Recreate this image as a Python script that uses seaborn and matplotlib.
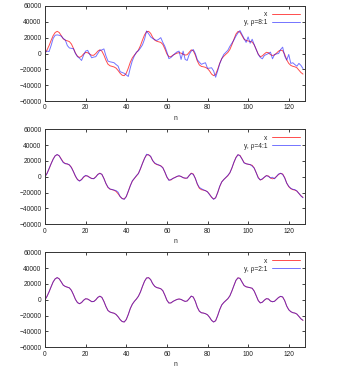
import numpy as np
import pandas as pd
import matplotlib
matplotlib.use("Agg")
import matplotlib.pyplot as plt
import seaborn as sns

n = list(range(128))

# original signal (red)
x = [0, 4500, 10000, 16500, 22500, 26500, 28000, 26500, 22500, 18500,
     16800, 16000, 15000, 12000, 6500, 500, -3500, -5000, -3500, -500,
     1300, 1000, -700, -2300, -2200, 0, 3000, 4600, 3000, -2000,
     -8500, -13500, -15500, -16300, -17000, -18500, -21500, -25000, -27500, -28000,
     -25000, -18500, -11000, -5500, -2000, 1000, 4500, 10000, 17000, 23500,
     27500, 28000, 25500, 20500, 17000, 15500, 14800, 14000, 11500, 6000,
     -500, -4000, -4000, -2000, -800, 500, 1000, 500, -1000, -2000,
     -1500, 1500, 4600, 3500, -2000, -9500, -14500, -16300, -16800, -17500,
     -19000, -22000, -26000, -28000, -26500, -20000, -12500, -6500, -3500, -1000,
     1300, 5000, 11000, 18000, 24500, 27800, 27000, 22500, 18000, 16500,
     15800, 15300, 14500, 11000, 5000, -1000, -4000, -3000, -500, 1500,
     1000, -1500, -2500, -1800, 500, 3000, 4300, 3500, -1000, -8000,
     -12500, -15000, -16200, -16800, -18000, -21000, -24000, -26000]

# reconstructed signal, rho = 8:1
y8 = [2000, 3000, 2500, 10000, 19000, 23000, 23500, 23000, 22000, 19000,
      17000, 10000, 7000, 6500, 6000, 0, -4000, -6000, -8800, -2000,
      3000, 4000, -1000, -5400, -4500, -4000, 0, 4000, 4500, 5800,
      -3000, -9600, -10500, -11000, -11700, -14000, -16000, -23000, -24000, -25000,
      -27000, -29000, -18000, -9000, -3000, 1700, 3500, 7000, 11000, 18000,
      28500, 25000, 21000, 19000, 17500, 16500, 18000, 20000, 14000, 9000,
      2000, -6500, -5000, -2500, 0, 2000, 3000, -7500, 3000, -7500,
      -8800, -1200, 3000, 5000, 0, -8000, -11000, -13700, -12500, -11700,
      -18700, -18500, -18000, -22000, -30000, -22000, -13000, -6700, -1200, 1500,
      4000, 9000, 13000, 17000, 22000, 26000, 29000, 24000, 19000, 14000,
      21000, 13000, 18000, 11000, 5000, -1200, -5000, -6700, -2500, -1200,
      0, 1700, -6700, -1200, -500, 0, 5000, 8000, -3300, -8300,
      -1200, -12500, -11700, -14000, -16000, -12500, -15000, -19000]

# reconstructed signal, rho = 4:1
y4 = [500, 4000, 10500, 16500, 22000, 26500, 28200, 26500, 22000, 18000,
      16500, 16500, 15000, 11500, 6500, 1000, -3500, -5500, -3500, 0,
      1800, 800, -1000, -2000, -2500, -300, 3000, 4300, 3200, -2200,
      -8500, -13000, -15500, -16000, -16800, -17500, -19500, -25000, -27500, -28500,
      -25000, -18000, -11500, -5000, -2000, 1500, 4000, 10500, 17000, 23000,
      28500, 27500, 26000, 20500, 17500, 16000, 15000, 13500, 11500, 6000,
      0, -4500, -3500, -2000, -1000, 500, 1500, 300, -1200, -1500,
      -1800, 1800, 4200, 3000, -2000, -9000, -13500, -15000, -16500, -17500,
      -19000, -22500, -25500, -28500, -26500, -20000, -12000, -6500, -3500, -1000,
      1800, 5000, 11000, 18500, 24000, 28000, 26500, 22500, 17500, 16500,
      16000, 15500, 13500, 11000, 5000, -1500, -4000, -2500, -500, 1500,
      500, -1500, -600, -2500, 500, 3500, 4500, 3000, -1500, -8000,
      -12000, -14500, -15800, -16200, -18000, -21000, -24000, -26500]

# reconstructed signal, rho = 2:1
y2 = [100, 4400, 10100, 16400, 22600, 26400, 28100, 26400, 22600, 18400,
      16900, 15900, 15100, 11900, 6600, 400, -3600, -4900, -3400, -600,
      1400, 900, -600, -2400, -2100, -100, 3100, 4500, 3100, -2100,
      -8400, -13600, -15400, -16400, -16900, -18600, -21400, -25100, -27400, -28100,
      -24900, -18600, -10900, -5600, -1900, 900, 4600, 9900, 17100, 23400,
      27600, 27900, 25600, 20400, 17100, 15400, 14900, 13900, 11600, 5900,
      -400, -4100, -3900, -2100, -700, 400, 1100, 400, -900, -2100,
      -1400, 1400, 4700, 3400, -1900, -9600, -14400, -16400, -16700, -17600,
      -18900, -22100, -25900, -28100, -26400, -20100, -12400, -6600, -3400, -1100,
      1400, 4900, 11100, 17900, 24600, 27700, 27100, 22400, 18100, 16400,
      15900, 15200, 14600, 10900, 5100, -1100, -3900, -3100, -400, 1400,
      1100, -1600, -2400, -1900, 600, 2900, 4400, 3600, -1100, -7900,
      -12600, -14900, -16300, -16700, -18100, -20900, -24100, -25900]

panels = [("y, \u03c1=8:1", y8), ("y, \u03c1=4:1", y4), ("y, \u03c1=2:1", y2)]

sns.set_theme(style="ticks")
plt.rcParams["font.family"] = ["Liberation Sans", "DejaVu Sans"]
plt.rcParams["font.size"] = 4.8
plt.rcParams["axes.linewidth"] = 0.7
plt.rcParams["axes.edgecolor"] = "#333333"

fig = plt.figure(figsize=(3.5, 3.68), dpi=100)
left, width = 45 / 350, 260 / 350
tops = [6, 129.3, 252.3]
height_px = 95

for (lab, y), top in zip(panels, tops):
    ax = fig.add_axes([left, 1 - (top + height_px) / 368, width, height_px / 368])
    df = pd.DataFrame({"n": n, "x": x, "y": y})
    sns.lineplot(data=df, x="n", y="x", ax=ax, color="#ff0000", lw=0.7,
                 alpha=0.7, label="x")
    sns.lineplot(data=df, x="n", y="y", ax=ax, color="#0000ff", lw=0.7,
                 alpha=0.55, label=lab)
    ax.set_xlim(0, 128)
    ax.set_ylim(-60000, 60000)
    ax.set_xticks(range(0, 121, 20))
    ax.set_yticks(range(-60000, 60001, 20000))
    ax.tick_params(direction="in", length=2.2, width=0.6, top=True, right=True,
                   labelsize=4.8, pad=2.5, colors="#222222")
    ax.set_xlabel("n", fontsize=4.8, labelpad=2.5)
    ax.set_ylabel("")
    ax.legend(loc="upper right", frameon=False, markerfirst=False,
              fontsize=4.8, handlelength=4.2, handletextpad=0.6,
              labelspacing=0.15, borderaxespad=0.4)

plt.savefig("out.png", dpi=100)
plt.close()
